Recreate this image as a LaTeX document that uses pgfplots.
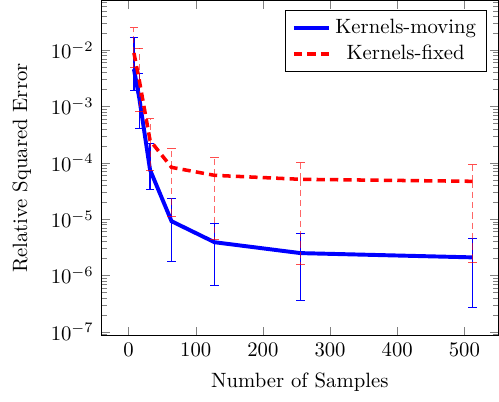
\documentclass[border=0pt]{standalone}
\usepackage{pgfplots}
\usepackage{pgfplotstable}
\pgfplotsset{compat=1.18}
\pgfplotstableread{
x y ep em
8 4.6e-3 1.21e-2 2.7e-3
16 1.4e-3 2.5e-3 9.9e-4
32 7.5e-5 1.45e-4 4.1e-5
64 9.2e-6 1.38e-5 7.4e-6
128 3.9e-6 4.4e-6 3.24e-6
256 2.5e-6 3.0e-6 2.14e-6
512 2.1e-6 2.5e-6 1.83e-6
}\moving
\pgfplotstableread{
x y ep em
8 8.9e-3 1.61e-2 3.9e-3
16 2.9e-3 7.9e-3 2.1e-3
32 2.5e-4 3.5e-4 1.78e-4
64 8.3e-5 9.7e-5 7.2e-5
128 6.0e-5 6.3e-5 5.56e-5
256 5.1e-5 5.1e-5 4.94e-5
512 4.7e-5 4.6e-5 4.53e-5
}\fixed
\begin{document}
\begin{tikzpicture}
\begin{axis}[
  scale only axis,
  width=192pt, height=162pt,
  ymode=log,
  xmin=-41, xmax=551,
  ymin=8.5e-8, ymax=0.0762,
  xtick={0,100,200,300,400,500},
  xlabel={Number of Samples},
  xlabel style={inner ysep=4.6pt},
  ylabel={Relative Squared Error},
  ylabel style={inner ysep=6pt},
  legend pos=north east,
  legend cell align=center,
]
\addplot[blue, line width=1.9pt,
  error bars/.cd, y dir=both, y explicit,
  error bar style={line width=0.6pt, solid, color=blue},
  error mark options={rotate=90, color=blue, solid, line width=0.6pt}]
  table[x=x, y=y, y error plus=ep, y error minus=em] {\moving};
\addlegendentry{Kernels-moving}
\addplot[red, line width=1.7pt, dash pattern=on 4pt off 2.5pt,
  error bars/.cd, y dir=both, y explicit,
  error bar style={line width=0.5pt, dash pattern=on 3pt off 2pt, color=red, opacity=0.6},
  error mark options={rotate=90, color=red, solid, line width=0.5pt, opacity=0.7}]
  table[x=x, y=y, y error plus=ep, y error minus=em] {\fixed};
\addlegendentry{Kernels-fixed}
\end{axis}
\end{tikzpicture}
\end{document}
